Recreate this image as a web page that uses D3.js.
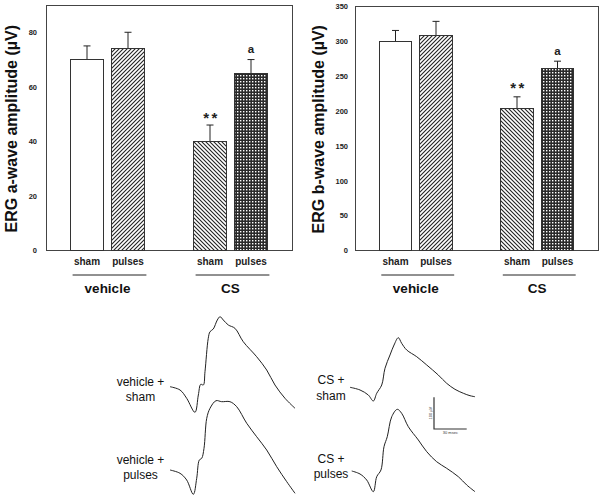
<!DOCTYPE html>
<html><head><meta charset="utf-8">
<script src="https://cdn.jsdelivr.net/npm/d3@7"></script>
<style>body{margin:0;background:#fff}svg{display:block;font-family:Arial,"Liberation Sans",sans-serif}</style>
</head><body><svg id="c" width="603" height="499"></svg>
<script>
// ---------- DATA ----------
const groups = ["vehicle", "CS"];
const treatments = ["sham", "pulses"];
const barPos = [1, 2, 4, 5]; // vehicle-sham, vehicle-pulses, CS-sham, CS-pulses
const aWaveMean = [70, 74, 40, 65];
const aWaveErr = [5, 6, 6, 5];
const aWaveMarks = ["", "", "**", "a"];
const aTicks = [0, 20, 40, 60, 80];
const bWaveMean = [299, 308, 203, 260];
const bWaveErr = [16, 20, 17, 11];
const bWaveMarks = ["", "", "**", "a"];
const bTicks = [0, 50, 100, 150, 200, 250, 300, 350];
const fills = ["white", "hatchR", "hatchL", "checker"];

// ERG traces: time (ms), amplitude (µV) relative to trace start
const traceVehSham = [[0,0],[9.2,-10.4],[15.3,-36.6],[22.9,-80.8],[26.0,-26.2],[28.2,7.6],[30.6,5.4],[32.1,47.3],[35.1,152.7],[36.7,173.5],[39.7,182],[43.4,210.4],[45.9,220.8],[48.9,210.4],[53.5,194.6],[59.6,184.2],[67.2,142],[79.5,94.6],[88.7,52.7],[96.3,5.4],[105.5,-36.6],[114.7,-68.1]];
const traceVehPulses = [[0,0],[9.2,-10.4],[15.3,-31.5],[21.4,-76.7],[24.5,-26.2],[26.9,31.5],[29.1,36.9],[31.2,68.4],[33.7,163],[36.7,194.6],[42.2,218.6],[47.4,215.5],[55.0,215.5],[61.2,199.7],[70.4,147.3],[79.5,105],[88.7,63.1],[97.9,10.4],[107.1,-36.9],[114.7,-73.5]];
const traceCSSham = [[0,0],[9.2,-8.5],[16.8,-24.3],[21.4,-43.2],[24.5,-18.9],[29.1,7.3],[32.1,59.9],[36.7,101.9],[40.4,133.4],[44.3,156.5],[47.4,138.8],[52.0,117.7],[61.2,96.5],[70.4,70.3],[81.0,38.8],[88.7,12.6],[96.3,-6.3],[104.0,-18.9],[110.1,-26.5],[114.7,-29.7]];
const traceCSPulses = [[1.6,0],[9.2,-9.5],[15.3,-28.4],[21.4,-65.3],[24.5,-18],[28.4,3.2],[31.2,76.7],[34.2,108.2],[38.3,171.3],[43.4,194.6],[47.4,182],[53.5,139.7],[62.7,97.8],[70.4,60.9],[79.5,29.3],[88.7,8.5],[99.4,-18],[107.1,-44.2],[114.7,-65.3]];
const traceLabels = [["vehicle +","sham"],["vehicle +","pulses"],["CS +","sham"],["CS +","pulses"]];
const scaleBarUV = 100, scaleBarMs = 30;
const scaleBarTexts = ["100 µV", "30 msec"];

// ---------- DRAW ----------
const svg = d3.select("#c");
const defs = svg.append("defs");
let p = defs.append("pattern").attr("id","hatchR").attr("patternUnits","userSpaceOnUse").attr("width",4).attr("height",4);
p.append("rect").attr("width",4).attr("height",4).attr("fill","#fff");
p.append("path").attr("d","M-1,1 l2,-2 M0,4 l4,-4 M3,5 l2,-2").attr("stroke","#222").attr("stroke-width",1.1);
p = defs.append("pattern").attr("id","hatchL").attr("patternUnits","userSpaceOnUse").attr("width",4).attr("height",4);
p.append("rect").attr("width",4).attr("height",4).attr("fill","#fff");
p.append("path").attr("d","M-1,3 l2,2 M0,0 l4,4 M3,-1 l2,2").attr("stroke","#222").attr("stroke-width",1.1);
p = defs.append("pattern").attr("id","checker").attr("patternUnits","userSpaceOnUse").attr("width",3).attr("height",3);
p.append("rect").attr("width",3).attr("height",3).attr("fill","#2a2a2a");
p.append("rect").attr("width",1.4).attr("height",1.4).attr("fill","#fff");

function panel(cfg) {
  const {left, right, top, bottom, ymax, ticks, means, errs, marks, title, titleX, starGap, aGap} = cfg;
  const x = d3.scaleLinear().domain([0, 6]).range([left, right]);
  const y = d3.scaleLinear().domain([0, ymax]).range([bottom, top]);
  const bw = (x(1) - x(0)) * 0.8;
  const g = svg.append("g");
  // frame
  g.append("rect").attr("x", left).attr("y", top).attr("width", right-left).attr("height", bottom-top)
    .attr("fill","none").attr("stroke","#444").attr("stroke-width",1).attr("shape-rendering","crispEdges");
  // axis
  const ax = g.append("g").attr("transform",`translate(${left},0)`)
    .call(d3.axisLeft(y).tickValues(ticks).tickSize(0).tickPadding(cfg.pad));
  ax.select(".domain").remove();
  ax.selectAll(".tick line").remove();
  ax.selectAll("text").attr("font-size",7.5).attr("font-weight","bold").attr("fill","#222")
    .attr("font-family","Arial, 'Liberation Sans', sans-serif");
  // bars
  barPos.forEach((bp, i) => {
    const cx = x(bp);
    const et = y(means[i]+errs[i]);
    g.append("line").attr("x1",cx).attr("x2",cx).attr("y1",y(means[i])).attr("y2",et)
      .attr("stroke","#222").attr("stroke-width",1);
    g.append("line").attr("x1",cx-3.5).attr("x2",cx+3.5).attr("y1",et).attr("y2",et)
      .attr("stroke","#222").attr("stroke-width",1);
    g.append("rect").attr("x",cx-bw/2).attr("y",y(means[i])).attr("width",bw).attr("height",bottom-y(means[i]))
      .attr("fill", fills[i]==="white" ? "#fff" : `url(#${fills[i]})`)
      .attr("stroke","#333").attr("stroke-width",1).attr("shape-rendering","crispEdges");
    if (marks[i] === "**") {
      g.append("text").attr("x",cx+1.5).attr("y",et - starGap)
        .attr("text-anchor","middle").attr("font-weight","bold").attr("font-size",15)
        .attr("letter-spacing",2.5).attr("fill","#222").text(marks[i]);
    } else if (marks[i]) {
      g.append("text").attr("x",cx).attr("y",et - aGap)
        .attr("text-anchor","middle").attr("font-weight","bold").attr("font-size",11.5)
        .attr("fill","#222").text(marks[i]);
    }
    g.append("text").attr("x",cx).attr("y",bottom+14.5).attr("text-anchor","middle")
      .attr("font-size",10).attr("font-weight","bold").attr("fill","#222")
      .text(treatments[i % 2]);
  });
  // group lines and labels
  groups.forEach((gr, j) => {
    const a = x(barPos[j*2]) - bw/2 + 2, b = x(barPos[j*2+1]) + bw/2 + 2;
    g.append("line").attr("x1",a).attr("x2",b).attr("y1",bottom+24.5).attr("y2",bottom+24.5)
      .attr("stroke","#222").attr("stroke-width",1);
    g.append("text").attr("x",(x(barPos[j*2]) + x(barPos[j*2+1]))/2).attr("y",bottom+42.5)
      .attr("text-anchor","middle").attr("font-size",13.5).attr("font-weight","bold").attr("fill","#111")
      .text(gr);
  });
  // title
  g.append("text").attr("transform",`translate(${titleX},${(top+bottom)/2+1}) rotate(-90)`)
    .attr("text-anchor","middle").attr("font-size",16).attr("font-weight","bold").attr("fill","#111")
    .text(title);
}

panel({left:46, right:292, top:5, bottom:250.5, ymax:90, ticks:aTicks, means:aWaveMean, errs:aWaveErr,
  marks:aWaveMarks, title:"ERG a-wave amplitude (µV)", titleX:17, pad:9, starGap:2, aGap:6.5});
panel({left:355, right:598, top:6, bottom:250.5, ymax:350, ticks:bTicks, means:bWaveMean, errs:bWaveErr,
  marks:bWaveMarks, title:"ERG b-wave amplitude (µV)", titleX:324, pad:7, starGap:3.5, aGap:6});

// traces
const tScale = d3.scaleLinear().domain([0, scaleBarMs]).range([0, 32.7]);
const aScale = d3.scaleLinear().domain([0, scaleBarUV]).range([0, -31.7]);
const traces = [
  {data: traceVehSham, x0:170, y0:386.7, lx:140.5, ly:385.5},
  {data: traceVehPulses, x0:170, y0:470, lx:140.5, ly:463.5},
  {data: traceCSSham, x0:350, y0:387.3, lx:331, ly:384},
  {data: traceCSPulses, x0:350, y0:471, lx:331, ly:462.5},
];
const line = d3.line().curve(d3.curveCatmullRom.alpha(0.5));
traces.forEach((t, i) => {
  svg.append("path").attr("d", line(t.data.map(d => [t.x0 + tScale(d[0]), t.y0 + aScale(d[1])])))
    .attr("fill","none").attr("stroke","#222").attr("stroke-width",1);
  const tx = svg.append("text").attr("text-anchor","middle").attr("font-size",12).attr("fill","#111");
  tx.append("tspan").attr("x",t.lx).attr("y",t.ly).text(traceLabels[i][0]);
  tx.append("tspan").attr("x",t.lx).attr("y",t.ly+15.5).text(traceLabels[i][1]);
});
// scale bar
const sbx = 434, sby = 429;
svg.append("path").attr("d", `M${sbx},${sby + aScale(scaleBarUV)} V${sby} H${sbx + tScale(scaleBarMs)}`)
  .attr("fill","none").attr("stroke","#333").attr("stroke-width",1.2);
svg.append("text").attr("transform",`translate(${sbx-2.5},${sby + aScale(scaleBarUV)/2}) rotate(-90)`)
  .attr("text-anchor","middle").attr("font-size",4).attr("fill","#333").text(scaleBarTexts[0]);
svg.append("text").attr("x", sbx + tScale(scaleBarMs)/2).attr("y", sby+5)
  .attr("text-anchor","middle").attr("font-size",4).attr("fill","#333").text(scaleBarTexts[1]);
</script></body></html>
